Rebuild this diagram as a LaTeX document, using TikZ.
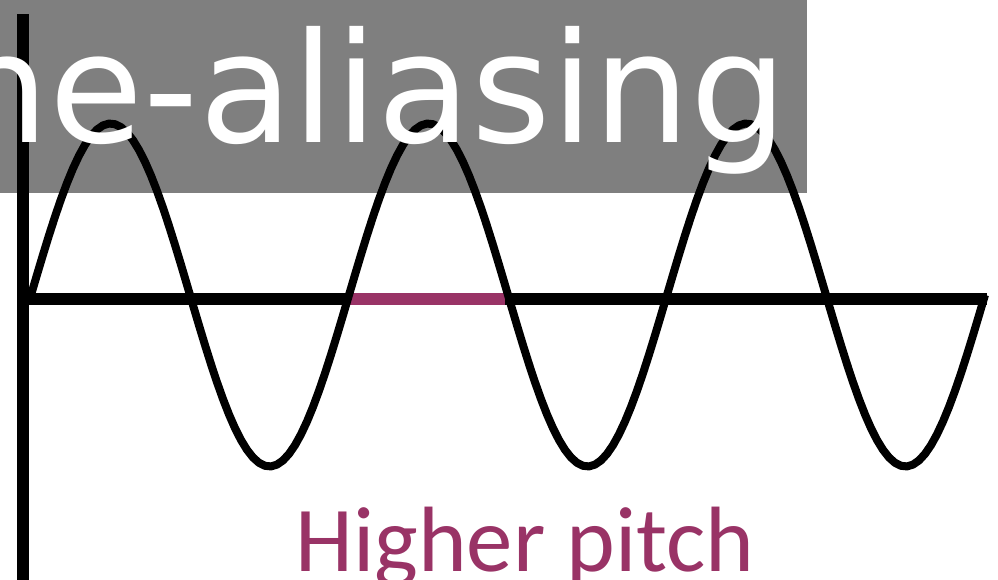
\documentclass[tikz,border=0pt]{standalone}
\usepackage{fontspec}
\setmainfont{DejaVu Sans}
\newfontfamily\labelfont{Carlito}
\usepackage{tikz}

\definecolor{pitchcol}{RGB}{153,51,102}
\tikzset{
  axisline/.style={line width=1.2mm, black},
  waveline/.style={line width=0.8mm, black, line join=round}
}

\begin{document}
\begin{tikzpicture}

\clip (0,0) rectangle (9.98,5.80);
\useasboundingbox (0,0) rectangle (9.98,5.80);

% vertical axis
\draw [axisline] (0.23,0) -- (0.23,5.66);
% horizontal axis
\draw [axisline] (0.23,2.81) -- (9.87,2.81);
% one period marked
\draw [axisline, pitchcol] (3.48,2.81) -- (5.05,2.81);

% wave
\draw [waveline] plot[domain=0:1080, samples=160] ({0.31+\x/360*3.18},{2.85+1.715*sin(\x)});

% caption bar
\fill [black, opacity=0.5] (0,3.87) rectangle (8.07,5.80);
\node (title) [anchor=base west, inner sep=0, text=white] at (-0.478,4.37)
  {\fontsize{43.5}{52}\selectfont he-aliasing};

% label
\node (pitch) [anchor=base, inner sep=0, text=pitchcol] at (5.25,0.08)
  {\labelfont\fontsize{26.4}{32}\selectfont Higher pitch};

\end{tikzpicture}
\end{document}
